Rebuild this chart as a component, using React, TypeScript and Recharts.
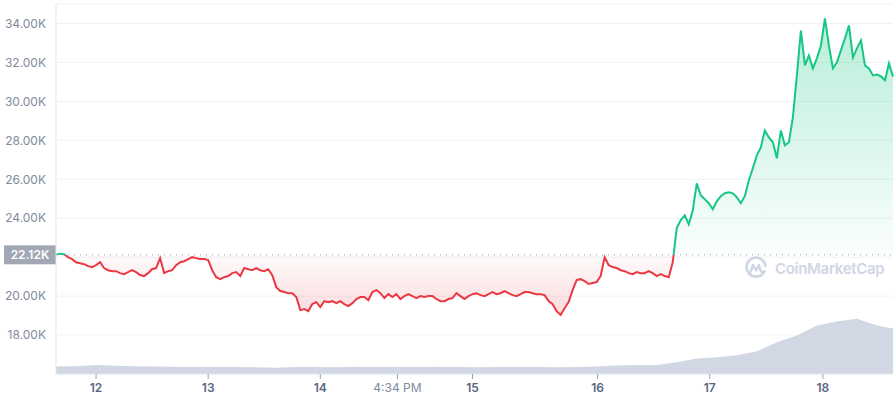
import React from 'react';
import {
  ComposedChart,
  Area,
  XAxis,
  YAxis,
  CartesianGrid,
  ReferenceLine,
} from 'recharts';

// price in thousands USD, one sample per step
const priceK = [
  22.13, 22.18, 22.15, 22.0, 21.9, 21.74, 21.69, 21.64, 21.54, 21.49,
  21.59, 21.74, 21.44, 21.33, 21.28, 21.28, 21.18, 21.13, 21.23, 21.33,
  21.23, 21.08, 21.03, 21.18, 21.38, 21.44, 21.95, 21.18, 21.28, 21.33,
  21.59, 21.74, 21.79, 21.9, 22.0, 21.95, 21.9, 21.9, 21.85, 21.33,
  20.97, 20.87, 20.97, 21.03, 21.18, 21.23, 21.03, 21.44, 21.38, 21.33,
  21.44, 21.33, 21.28, 21.38, 21.08, 20.46, 20.26, 20.21, 20.15, 20.15,
  19.95, 19.28, 19.33, 19.23, 19.59, 19.69, 19.44, 19.74, 19.69, 19.74,
  19.64, 19.74, 19.59, 19.49, 19.64, 19.85, 19.95, 19.95, 19.79, 20.21,
  20.31, 20.15, 19.9, 20.1, 19.95, 20.1, 19.85, 20.0, 20.1, 20.0,
  19.9, 20.0, 19.95, 20.0, 20.0, 19.85, 19.74, 19.74, 19.85, 19.9,
  20.15, 20.0, 19.85, 20.0, 20.1, 20.15, 20.05, 20.0, 20.1, 20.21,
  20.1, 20.15, 20.26, 20.15, 20.05, 20.0, 20.1, 20.21, 20.21, 20.15,
  20.1, 20.1, 20.05, 19.74, 19.59, 19.23, 19.03, 19.38, 19.69, 20.31,
  20.82, 20.87, 20.77, 20.62, 20.67, 20.72, 21.03, 22.0, 21.59, 21.49,
  21.44, 21.33, 21.28, 21.18, 21.13, 21.23, 21.18, 21.18, 21.28, 21.18,
  21.03, 21.13, 21.03, 20.97, 21.74, 23.49, 23.9, 24.15, 23.69, 24.41,
  25.79, 25.18, 24.97, 24.77, 24.46, 24.87, 25.13, 25.28, 25.33, 25.28,
  25.08, 24.77, 25.13, 25.95, 26.56, 27.23, 27.64, 28.51, 28.15, 27.9,
  27.08, 28.51, 27.74, 27.9, 29.18, 31.33, 33.64, 31.85, 32.36, 31.69,
  32.21, 32.87, 34.26, 32.87, 31.69, 32.0, 32.62, 33.23, 33.9, 32.26,
  32.72, 33.13, 31.85, 31.69, 31.33, 31.38, 31.28, 31.08, 31.95, 31.28,
];

// volume in billions USD, sampled every 5 steps
const volumeIdx = [
  0, 5, 10, 15, 20, 25, 30, 35, 40, 45, 50, 55, 60, 65, 70, 75, 80, 85, 90, 95,
  100, 105, 110, 115, 120, 125, 130, 135, 140, 145, 150, 155, 160, 165, 170,
  175, 180, 185, 190, 195, 200, 205, 209,
];
const volumeB = [
  5.3, 5.3, 6.0, 5.6, 5.3, 5.0, 4.9, 4.8, 4.7, 4.7, 4.5, 4.3, 4.7, 4.8, 4.6,
  4.9, 4.7, 4.8, 4.7, 4.9, 4.7, 4.6, 4.7, 4.8, 4.7, 4.6, 4.8, 5.0, 5.8, 6.0,
  6.0, 8.0, 10.5, 11.4, 12.7, 15.4, 21.4, 26.0, 32.7, 35.4, 37.4, 32.7, 30.7,
];

const xTicks = [10, 38, 66, 85.25, 104, 135.25, 163.25, 191.5];
const xTickLabels = ['12', '13', '14', '4:34 PM', '15', '16', '17', '18'];
const yTicks = [18, 20, 22, 24, 26, 28, 30, 32, 34];

const BASE = 22.12;
const Y_MIN = 16;
const Y_MAX = 35;
const VOL_MAX = 250;

const GREEN = '#16c784';
const RED = '#ea3943';

const priceData = priceK.map((p, i) => ({ t: i, p }));
const volumeData = volumeIdx.map((t, k) => ({ t, v: volumeB[k] }));

const splitOffset = (Y_MAX - BASE) / (Y_MAX - Y_MIN);

const DayTick = ({ x, y, payload }: any) => {
  const label = xTickLabels[xTicks.indexOf(payload.value)];
  const isTime = label.includes(':');
  return (
    <text
      x={x}
      y={y}
      dy={11}
      textAnchor="middle"
      fontSize={12}
      fontFamily="Inter"
      fontWeight={isTime ? 400 : 600}
      fill={isTime ? '#808a9d' : '#58667e'}
    >
      {label}
    </text>
  );
};

// the base price box covers the tick that sits right under it
const formatY = (v: number) => (Math.abs(v - BASE) < 0.5 ? '' : `${v.toFixed(2)}K`);

const BaseLabel = ({ viewBox }: any) => (
  <g>
    <rect x={viewBox.x - 52} y={viewBox.y - 9.5} width={52} height={19} fill="#a1a7b3" />
    <text
      x={viewBox.x - 26}
      y={viewBox.y}
      dy={4.5}
      textAnchor="middle"
      fill="#fff"
      fontSize={12}
      fontFamily="Inter"
      fontWeight={600}
    >
      {BASE.toFixed(2)}K
    </text>
  </g>
);

const Watermark = () => (
  <div
    style={{
      position: 'absolute',
      left: 744,
      top: 256,
      display: 'flex',
      alignItems: 'center',
      gap: 7,
      color: '#cfd6e4',
      fontFamily: 'Inter',
      fontWeight: 600,
      fontSize: 15,
      letterSpacing: -0.3,
      pointerEvents: 'none',
    }}
  >
    <svg width={24} height={24} viewBox="0 0 24 24">
      <path
        d="M20.5 15.5 A9.5 9.5 0 1 1 21.5 10"
        fill="none"
        stroke="#cfd6e4"
        strokeWidth={2.6}
        strokeLinecap="round"
      />
      <path
        d="M6.5 16 L9 9 L12 14.5 L15 9 L16.5 14.5 Q17.5 17 20 15.5"
        fill="none"
        stroke="#cfd6e4"
        strokeWidth={2.4}
        strokeLinecap="round"
        strokeLinejoin="round"
      />
    </svg>
    <span>CoinMarketCap</span>
  </div>
);

const PriceChart: React.FC = () => {
  return (
    <div style={{ position: 'absolute', left: 0, top: 0, width: 894, height: 400, background: '#fff' }}>
      <ComposedChart
        width={894}
        height={400}
        data={priceData}
        margin={{ top: 4, right: 1, left: 0, bottom: 0 }}
      >
        <defs>
          <linearGradient id="priceStroke" gradientUnits="userSpaceOnUse" x1={0} y1={4} x2={0} y2={374}>
            <stop offset={0} stopColor={GREEN} />
            <stop offset={splitOffset} stopColor={GREEN} />
            <stop offset={splitOffset} stopColor={RED} />
            <stop offset={1} stopColor={RED} />
          </linearGradient>
          <linearGradient id="priceFill" gradientUnits="userSpaceOnUse" x1={0} y1={4} x2={0} y2={374}>
            <stop offset={0} stopColor={GREEN} stopOpacity={0.32} />
            <stop offset={splitOffset} stopColor={GREEN} stopOpacity={0.02} />
            <stop offset={splitOffset} stopColor={RED} stopOpacity={0.02} />
            <stop offset={1} stopColor={RED} stopOpacity={0.34} />
          </linearGradient>
        </defs>
        <CartesianGrid vertical={false} stroke="#eff2f5" yAxisId="price" />
        <XAxis
          dataKey="t"
          type="number"
          domain={[0, priceK.length - 1]}
          ticks={xTicks}
          interval={0}
          height={26}
          tick={<DayTick />}
          tickSize={5}
          tickLine={{ stroke: '#9aa2b3' }}
          axisLine={{ stroke: '#e3e7ee' }}
        />
        <YAxis
          yAxisId="price"
          domain={[Y_MIN, Y_MAX]}
          ticks={yTicks}
          interval={0}
          width={56}
          tickSize={0}
          tickMargin={10}
          tickFormatter={formatY}
          tick={{ fill: '#808a9d', fontSize: 12, fontFamily: 'Inter' }}
          axisLine={{ stroke: '#e3e7ee' }}
          allowDataOverflow
        />
        <YAxis yAxisId="vol" domain={[0, VOL_MAX]} hide />
        <Area
          yAxisId="vol"
          data={volumeData}
          dataKey="v"
          type="linear"
          fill="#d1d7e3"
          fillOpacity={1}
          stroke="none"
          dot={false}
          activeDot={false}
          isAnimationActive={false}
        />
        <Area
          yAxisId="price"
          dataKey="p"
          type="linear"
          baseValue={BASE}
          stroke="url(#priceStroke)"
          strokeWidth={2}
          fill="url(#priceFill)"
          fillOpacity={1}
          dot={false}
          activeDot={false}
          isAnimationActive={false}
        />
        <ReferenceLine
          yAxisId="price"
          y={BASE}
          stroke="#9aa2b3"
          strokeDasharray="1 5"
          label={<BaseLabel />}
        />
      </ComposedChart>
      <Watermark />
    </div>
  );
};

export default function App() {
  return <PriceChart />;
}
